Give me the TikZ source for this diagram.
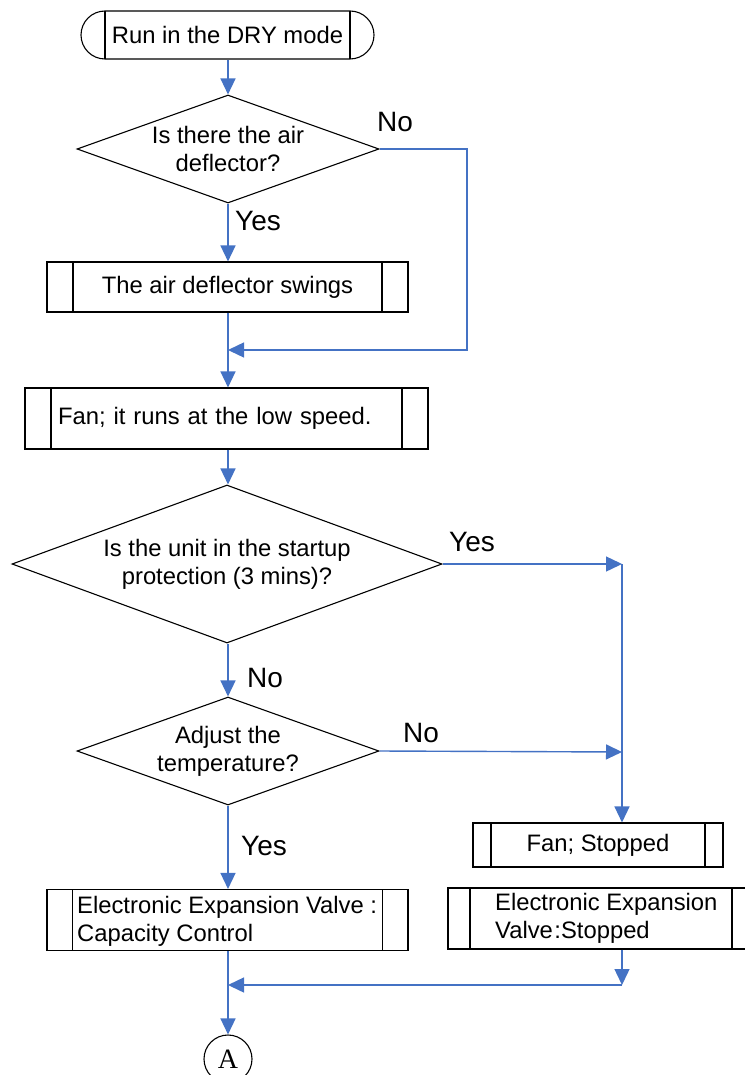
\documentclass[tikz,border=0pt]{standalone}
\usepackage{fontspec}
\setmainfont{Liberation Sans}
\newfontfamily\serifA{Liberation Serif}
\usetikzlibrary{shapes.geometric,shapes.misc,arrows.meta}
\definecolor{conncol}{RGB}{68,114,196}
\tikzset{
  conn/.style={draw=conncol, line width=1.4pt, -{Triangle[length=16pt,width=15pt]}},
  decision/.style={diamond, draw, line width=1.1pt, inner sep=0pt, align=center, shape aspect=2.8},
  subproc/.style={rectangle, draw, line width=1.1pt, inner sep=0pt,
    path picture={\draw[line width=1.1pt]
      ([xshift=#1]path picture bounding box.north west) -- ([xshift=#1]path picture bounding box.south west)
      ([xshift=-#1]path picture bounding box.north east) -- ([xshift=-#1]path picture bounding box.south east);}},
  termbox/.style={rounded rectangle, draw, line width=1.1pt, inner sep=0pt,
    path picture={\draw[line width=1.1pt]
      ([xshift=#1]path picture bounding box.north west) -- ([xshift=#1]path picture bounding box.south west)
      ([xshift=-#1]path picture bounding box.north east) -- ([xshift=-#1]path picture bounding box.south east);}},
  lbl/.style={inner sep=0pt, font=\fontsize{28}{32}\selectfont},
}
\begin{document}
\begin{tikzpicture}[x=1pt,y=-1pt,font=\fontsize{23.8}{28}\selectfont]
\useasboundingbox (0,0) rectangle (744,1075);

% nodes
\node[termbox=24, minimum width=293, minimum height=48] (start) at (227.5,35) {Run in the DRY mode};
\node[decision, minimum width=302, minimum height=108] (d1) at (228,149) {Is there the air\\deflector?};
\node[subproc=26, minimum width=361, minimum height=50] (b1) at (227.5,287) {The air deflector swings};
\node[subproc=26, minimum width=403, minimum height=61, text width=337pt, align=left] (b2) at (226.5,418.5) {Fan; it runs at the low speed.};
\node[decision, shape aspect=2.7, minimum width=430, minimum height=158] (d2) at (227,564) {Is the unit in the startup\\protection (3 mins)?};
\node[decision, minimum width=302, minimum height=108] (d3) at (228,751) {Adjust the\\temperature?};
\node[subproc=25.5, minimum width=361, minimum height=61] (eev) at (227.5,920) {};
\node[anchor=west, align=left, inner sep=0pt] (eevt) at (77,921) {Electronic Expansion Valve :\\Capacity Control};
\node[subproc=18, minimum width=250, minimum height=44] (fs) at (598,845) {Fan; Stopped};
\node[subproc=22, minimum width=306, minimum height=61] (es) at (601,918.5) {};
\node[anchor=west, align=left, inner sep=0pt] (est) at (495,918) {Electronic Expansion\\Valve\kern1.5pt:Stopped};
\node[circle, draw, line width=1.1pt, minimum size=48, inner sep=0pt, font=\serifA\fontsize{28}{28}\selectfont] (A) at (228,1059) {A};

% labels
\node[lbl] (no1) at (395,122) {No};
\node[lbl] (yes1) at (258,221) {Yes};
\node[lbl] (yes2) at (472,542) {Yes};
\node[lbl] (no2) at (265,678) {No};
\node[lbl] (no3) at (421,733) {No};
\node[lbl] (yes3) at (264,846) {Yes};

% helper coordinates
\coordinate (k1) at (467,149);
\coordinate (m1) at (228,350);
\coordinate (r1) at (622,564);
\coordinate (r2) at (622,752);
\coordinate (m2) at (622,985);
\coordinate (m3) at (228,985);

% connectors
\draw[conn] (start.south -| d1.north) -- (d1.north);
\draw[conn] (d1.south) -- (d1.south |- b1.north);
\draw[conn] (d1.east) -- (k1) |- (m1);
\draw[conn] (d1.south |- b1.south) -- (d1.south |- b2.north);
\draw[conn] (d1.south |- b2.south) -- (d1.south |- d2.north);
\draw[conn] (d1.south |- d2.south) -- (d3.north);
\draw[conn] (d2.east) -- (r1);
\draw[conn] (r1) -- (r1 |- fs.north);
\draw[conn] (d3.east) -- (r2);
\draw[conn] (d3.south) -- (d3.south |- eev.north);
\draw[conn] (r1 |- es.south) -- (m2);
\draw[conn] (m2) -- (m3);
\draw[conn] (d3.south |- eev.south) -- (A.north);
\end{tikzpicture}
\end{document}
